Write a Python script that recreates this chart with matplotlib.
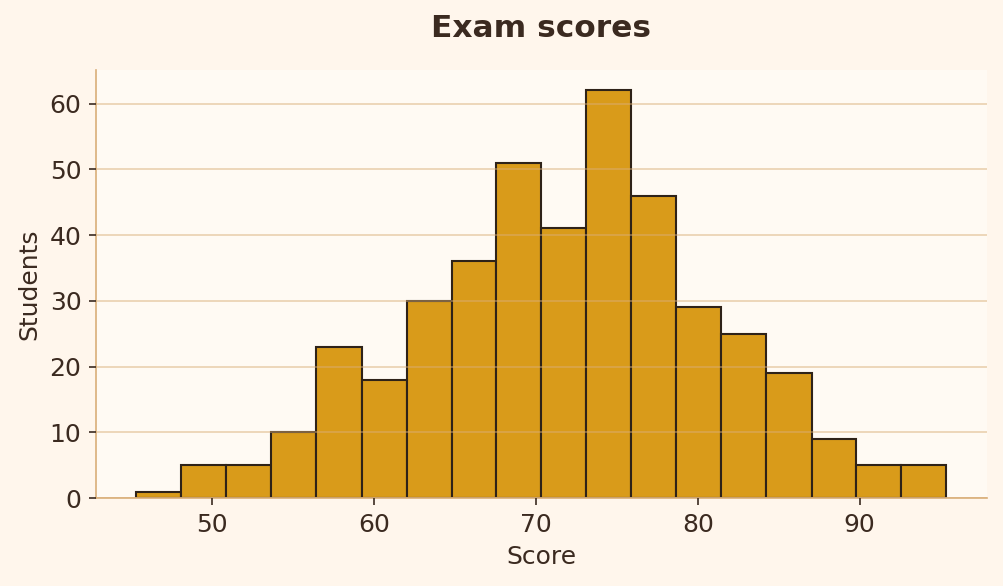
import matplotlib
matplotlib.use("Agg")
import matplotlib.pyplot as plt
import numpy as np

bin_edges = [45.31, 48.09, 50.87, 53.65, 56.43, 59.22, 62.00, 64.78, 67.56, 70.34,
             73.12, 75.90, 78.68, 81.46, 84.24, 87.03, 89.81, 92.59, 95.37]
counts = [1, 5, 5, 10, 23, 18, 30, 36, 51, 41, 62, 46, 29, 25, 19, 9, 5, 5]
x_ticks = [50, 60, 70, 80, 90]
y_ticks = [0, 10, 20, 30, 40, 50, 60]

text_c = "#3B2A20"
fig = plt.figure(figsize=(1003/150, 586/150), dpi=150, facecolor="#FFF6EC")
ax = fig.add_axes([0.0957, 0.150, 0.8883, 0.7305])
ax.set_facecolor("#FFFAF3")

edges = np.array(bin_edges)
ax.bar(edges[:-1], counts, width=np.diff(edges), align="edge",
       color="#D99B1A", edgecolor="#2E2218", linewidth=1.0, zorder=1)

ax.set_axisbelow(False)
ax.yaxis.grid(True, color="#D9AE78", alpha=0.55, linewidth=0.8, zorder=3)
ax.xaxis.grid(False)

for s in ["top", "right"]:
    ax.spines[s].set_visible(False)
for s in ["left", "bottom"]:
    ax.spines[s].set_color("#D9AE78")
    ax.spines[s].set_linewidth(0.8)

ax.set_xticks(x_ticks)
ax.set_yticks(y_ticks)
ax.tick_params(colors=text_c, labelsize=12, length=3.5, width=0.8)
ax.set_xlabel("Score", fontsize=12, color=text_c, labelpad=4)
ax.set_ylabel("Students", fontsize=12, color=text_c, labelpad=4)
ax.set_title("Exam scores", fontsize=15, fontweight="bold", color=text_c, pad=16)

fig.savefig("out.png", dpi=150, facecolor=fig.get_facecolor())
